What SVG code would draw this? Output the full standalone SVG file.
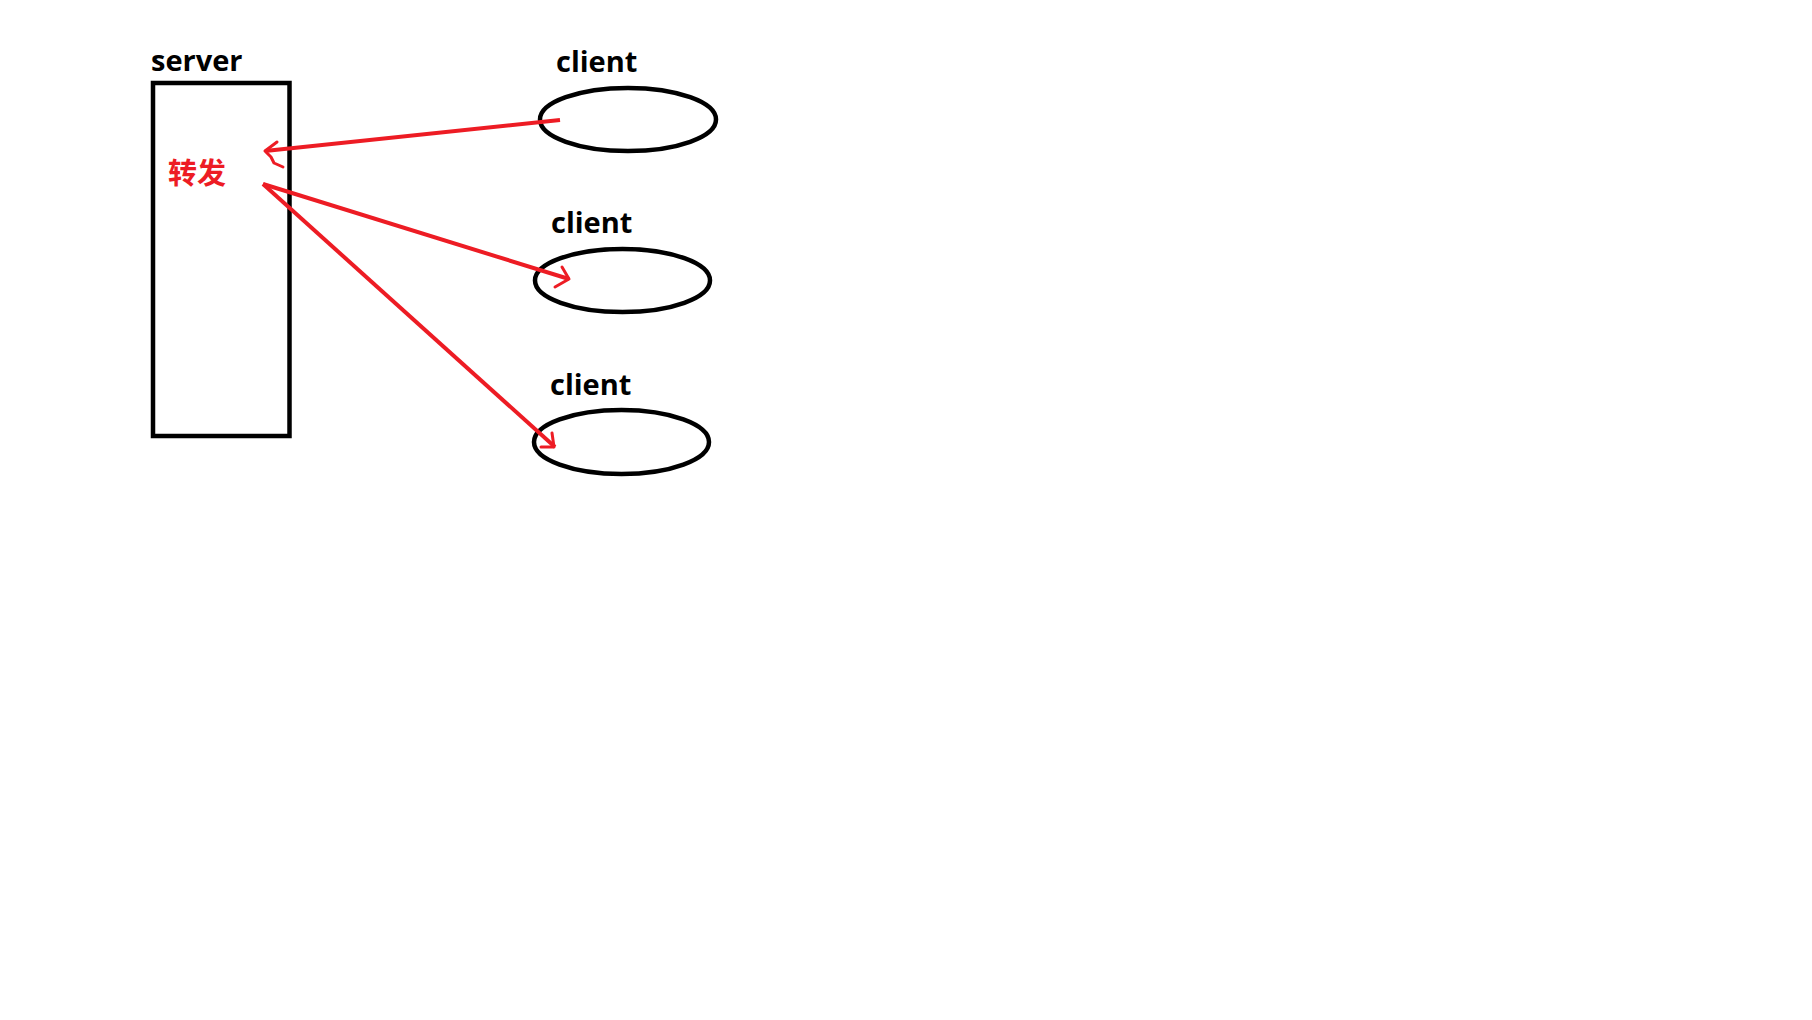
<svg xmlns="http://www.w3.org/2000/svg" width="1812" height="1020" viewBox="0 0 1812 1020">
<style>
.lbl{font-family:"Open Sans","Liberation Sans",sans-serif;font-weight:bold;font-size:29px;fill:#000}
.cn{font-family:"Noto Sans CJK SC",sans-serif;font-weight:bold;font-size:29px;fill:#ED1C24}
.shape{fill:none;stroke:#000;stroke-width:4.5}
.arr{fill:none;stroke:#ED1C24;stroke-width:4}
.head{fill:none;stroke:#ED1C24;stroke-width:3;stroke-linecap:round;stroke-linejoin:round}
</style>
<rect width="1812" height="1020" fill="#fff"/>
<g id="server">
<rect class="shape" x="153" y="83" width="136.5" height="353"/>
<text class="lbl" x="151" y="71">server</text>
<text class="cn" x="168" y="184">转发</text>
</g>
<g id="client1">
<ellipse class="shape" cx="628" cy="119.5" rx="88" ry="31.5"/>
<text class="lbl" x="556" y="72">client</text>
</g>
<g id="client2">
<ellipse class="shape" cx="622.5" cy="280.5" rx="87.5" ry="31.5"/>
<text class="lbl" x="551" y="233">client</text>
</g>
<g id="client3">
<ellipse class="shape" cx="621.5" cy="442" rx="87.5" ry="32"/>
<text class="lbl" x="550" y="395">client</text>
</g>
<g id="connectors">
<path class="arr" d="M560 120 L265 151"/>
<path class="head" d="M277 142 L265 151 L271 157 L274 163 L283 167"/>
<path class="arr" d="M263 184 L569 279"/>
<path class="head" d="M562 267 L569 279 L555 287"/>
<path class="arr" d="M263 184 L555 447"/>
<path class="head" d="M552 433 L554 447 L541 447"/>
</g>
</svg>
